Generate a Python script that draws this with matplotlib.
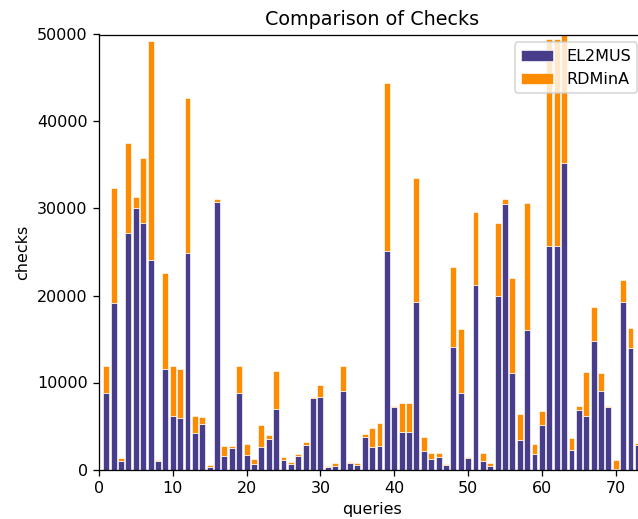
import matplotlib
matplotlib.use("Agg")
import matplotlib.pyplot as plt
import numpy as np

queries = list(range(1, 74))

el2mus = [8800, 19100, 980, 27200, 30050, 28300, 24100, 980, 11550, 6100,
          5950, 24900, 4230, 5220, 290, 30700, 1510, 2430, 8800, 1630,
          640, 2580, 3460, 6900, 1060, 640, 1590, 2810, 8200, 8320,
          250, 440, 9080, 710, 520, 3730, 2550, 2700, 25100, 7130,
          4270, 4270, 19280, 2090, 1170, 1400, 480, 14080, 8750, 1320,
          21160, 1020, 440, 19940, 30500, 11100, 3390, 16030, 1780, 5070,
          25720, 25720, 35260, 2200, 6790, 6180, 14730, 8970, 7130, 50,
          19280, 14000, 2810]

rdmina = [3150, 13200, 340, 10300, 1250, 7450, 25150, 150, 11000, 5770,
          5580, 17850, 1950, 800, 230, 380, 1220, 300, 3150, 1260,
          610, 2520, 460, 4430, 340, 190, 230, 310, 80, 1410,
          120, 310, 2790, 120, 270, 340, 2180, 2640, 19350, 160,
          3360, 3360, 14250, 1640, 760, 460, 150, 9150, 7350, 80,
          8390, 840, 350, 8350, 540, 10900, 2940, 14590, 1190, 1610,
          23750, 23750, 16000, 1450, 540, 4970, 3900, 2100, 120, 1000,
          2490, 2220, 230]

DPI = 115
fig = plt.figure(figsize=(638 / DPI, 519 / DPI), dpi=DPI)
ax = fig.add_axes([98.9 / 638, 49.5 / 519, 546.4 / 638, 435 / 519])

ax.bar(queries, el2mus, width=0.8, color="darkslateblue", edgecolor="white",
       linewidth=0.4, label="EL2MUS")
ax.bar(queries, rdmina, width=0.8, bottom=el2mus, color="darkorange",
       edgecolor="white", linewidth=0.4, label="RDMinA")

ax.set_xlim(0, 74)
ax.set_ylim(0, 50000)
ax.set_title("Comparison of Checks")
ax.set_xlabel("queries")
ax.set_ylabel("checks")
ax.legend(loc="upper right")

fig.savefig("out.png", dpi=DPI)
